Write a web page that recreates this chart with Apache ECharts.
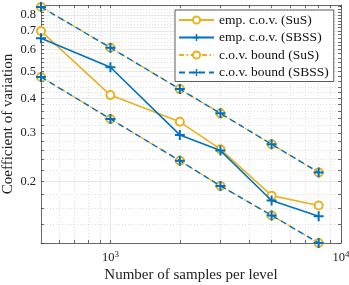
<!DOCTYPE html>
<html><head><meta charset="utf-8">
<script src="https://cdn.jsdelivr.net/npm/echarts@6/dist/echarts.min.js"></script>
<style>html,body{margin:0;padding:0;background:#fff}#c{width:349px;height:285px}</style>
</head><body><div id="c"></div>
<script>
const samples = [500, 1000, 2000, 3000, 5000, 8000];
const empSuS = [0.700, 0.411, 0.329, 0.262, 0.178, 0.164];
const empSBSS = [0.660, 0.518, 0.295, 0.259, 0.171, 0.150];
const boundUpper = [0.856, 0.610, 0.432, 0.353, 0.273, 0.216];
const boundLower = [0.478, 0.337, 0.238, 0.193, 0.151, 0.120];
const xMajorTicks = [1000, 10000];
const xMinorTicks = [600, 700, 800, 900, 2000, 3000, 4000, 5000, 6000, 7000, 8000, 9000];
const yMajorTicks = [0.2, 0.3, 0.4, 0.5, 0.6, 0.7, 0.8];
const yMinorTicks = [0.12, 0.14, 0.16, 0.18, 0.22, 0.24, 0.26, 0.28, 0.32, 0.34, 0.36, 0.38,
  0.42, 0.44, 0.46, 0.48, 0.52, 0.54, 0.56, 0.58, 0.62, 0.64, 0.66, 0.68, 0.72, 0.74, 0.76, 0.78,
  0.82, 0.84, 0.86];
const seriesNames = ['emp. c.o.v. (SuS)', 'emp. c.o.v. (SBSS)', 'c.o.v. bound (SuS)', 'c.o.v. bound (SBSS)'];

const ORANGE = '#EDB120', BLUE = '#0072BD';
const FONT = 'Liberation Serif';
const XMIN = 500, XMAX = 10000, YMIN = 0.12, YMAX = 0.87;
const PLUS = 'path://M4,0H6V4H10V6H6V10H4V6H0V4H4Z';
const pts = ys => samples.map((x, i) => [x, ys[i]]);

const allX = xMajorTicks.concat(xMinorTicks);
const allY = yMajorTicks.concat(yMinorTicks);

function xa(extra) {
  return Object.assign({
    type: 'log', logBase: 10, min: XMIN, max: XMAX, gridIndex: 0,
    axisLine: {show: false}, axisTick: {show: false}, axisLabel: {show: false},
    splitLine: {show: false}
  }, extra);
}
function ya(extra) {
  return Object.assign({
    type: 'log', logBase: 10, min: YMIN, max: YMAX, gridIndex: 0,
    axisLine: {show: false}, axisTick: {show: false}, axisLabel: {show: false},
    splitLine: {show: false}
  }, extra);
}
const lineCol = '#444';
const chart = echarts.init(document.getElementById('c'), null, {renderer: 'canvas'});
chart.setOption({
  animation: false,
  backgroundColor: '#fff',
  grid: {left: 41, right: 8, top: 5, bottom: 42, containLabel: false, outerBoundsMode: 'none'},
  legend: {
    orient: 'vertical', left: 175, top: 10, data: seriesNames,
    itemWidth: 35, itemHeight: 9, itemGap: 3.5,
    padding: [3, 5, 2, 3], backgroundColor: '#fff', borderColor: '#333', borderWidth: 0.8,
    textStyle: {fontFamily: FONT, fontSize: 13.5, lineHeight: 12, color: '#111'}
  },
  xAxis: [
    xa({position: 'bottom', axisTick: {show: false, customValues: xMinorTicks},
        splitLine: {show: true, lineStyle: {color: '#d8d8d8', width: 0.8, type: [1, 2]}}}),
    xa({position: 'bottom', axisTick: {show: false, customValues: xMajorTicks},
        splitLine: {show: true, lineStyle: {color: '#e2e2e2', width: 0.8}}}),
    xa({position: 'bottom', name: 'Number of samples per level', nameLocation: 'middle', nameGap: 25,
        nameMoveOverlap: false,
        nameTextStyle: {fontFamily: FONT, fontSize: 15, color: '#222'},
        axisLine: {show: true, lineStyle: {color: lineCol, width: 0.8}},
        axisTick: {show: true, inside: true, length: 3, customValues: allX, lineStyle: {color: lineCol, width: 0.8}},
        axisLabel: {show: true, customValues: xMajorTicks, margin: 7,
          formatter: v => '10{s|' + Math.round(Math.log10(v)) + '}',
          fontFamily: FONT, fontSize: 12.5, color: '#222',
          rich: {s: {fontFamily: FONT, fontSize: 9, color: '#222', verticalAlign: 'top', padding: [0, 0, 6, 0]}}}}),
    xa({position: 'top',
        axisLine: {show: true, lineStyle: {color: lineCol, width: 0.8}},
        axisTick: {show: true, inside: true, length: 3, customValues: allX, lineStyle: {color: lineCol, width: 0.8}}})
  ],
  yAxis: [
    ya({position: 'left', axisTick: {show: false, customValues: yMinorTicks},
        splitLine: {show: true, lineStyle: {color: '#d8d8d8', width: 0.8, type: [1, 2]}}}),
    ya({position: 'left', axisTick: {show: false, customValues: yMajorTicks},
        splitLine: {show: true, lineStyle: {color: '#e2e2e2', width: 0.8}}}),
    ya({position: 'left', name: 'Coefficient of variation', nameLocation: 'middle', nameGap: 25,
        nameMoveOverlap: false,
        nameTextStyle: {fontFamily: FONT, fontSize: 15, color: '#222'},
        axisLine: {show: true, lineStyle: {color: lineCol, width: 0.8}},
        axisTick: {show: true, inside: true, length: 3, customValues: allY, lineStyle: {color: lineCol, width: 0.8}},
        axisLabel: {show: true, customValues: yMajorTicks, margin: 5,
          formatter: v => Number(v).toFixed(1),
          fontFamily: FONT, fontSize: 12.5, color: '#222'}}),
    ya({position: 'right',
        axisLine: {show: true, lineStyle: {color: lineCol, width: 0.8}},
        axisTick: {show: true, inside: true, length: 3, customValues: allY, lineStyle: {color: lineCol, width: 0.8}}})
  ],
  series: [
    {name: seriesNames[0], type: 'line', xAxisIndex: 2, yAxisIndex: 2, data: pts(empSuS),
     symbol: 'emptyCircle', symbolSize: 8, color: ORANGE,
     lineStyle: {color: ORANGE, width: 1.6}, itemStyle: {color: ORANGE, borderWidth: 1.5}, z: 3},
    {name: seriesNames[1], type: 'line', xAxisIndex: 2, yAxisIndex: 2, data: pts(empSBSS),
     symbol: PLUS, symbolSize: 10, color: BLUE,
     lineStyle: {color: BLUE, width: 1.6}, itemStyle: {color: BLUE}, z: 4},
    {name: seriesNames[2], type: 'line', xAxisIndex: 2, yAxisIndex: 2, data: pts(boundUpper),
     symbol: 'emptyCircle', symbolSize: 8, color: ORANGE,
     lineStyle: {color: ORANGE, width: 1.4, type: [5, 2.5, 1.5, 2.5]}, itemStyle: {color: ORANGE, borderWidth: 1.5}, z: 5},
    {name: seriesNames[2], type: 'line', xAxisIndex: 2, yAxisIndex: 2, data: pts(boundLower),
     symbol: 'emptyCircle', symbolSize: 8, color: ORANGE,
     lineStyle: {color: ORANGE, width: 1.4, type: [5, 2.5, 1.5, 2.5]}, itemStyle: {color: ORANGE, borderWidth: 1.5}, z: 5},
    {name: seriesNames[3], type: 'line', xAxisIndex: 2, yAxisIndex: 2, data: pts(boundUpper),
     symbol: PLUS, symbolSize: 10, color: BLUE,
     lineStyle: {color: BLUE, width: 1.4, type: [6, 4]}, itemStyle: {color: BLUE}, z: 6},
    {name: seriesNames[3], type: 'line', xAxisIndex: 2, yAxisIndex: 2, data: pts(boundLower),
     symbol: PLUS, symbolSize: 10, color: BLUE,
     lineStyle: {color: BLUE, width: 1.4, type: [6, 4]}, itemStyle: {color: BLUE}, z: 6}
  ]
});
</script></body></html>
